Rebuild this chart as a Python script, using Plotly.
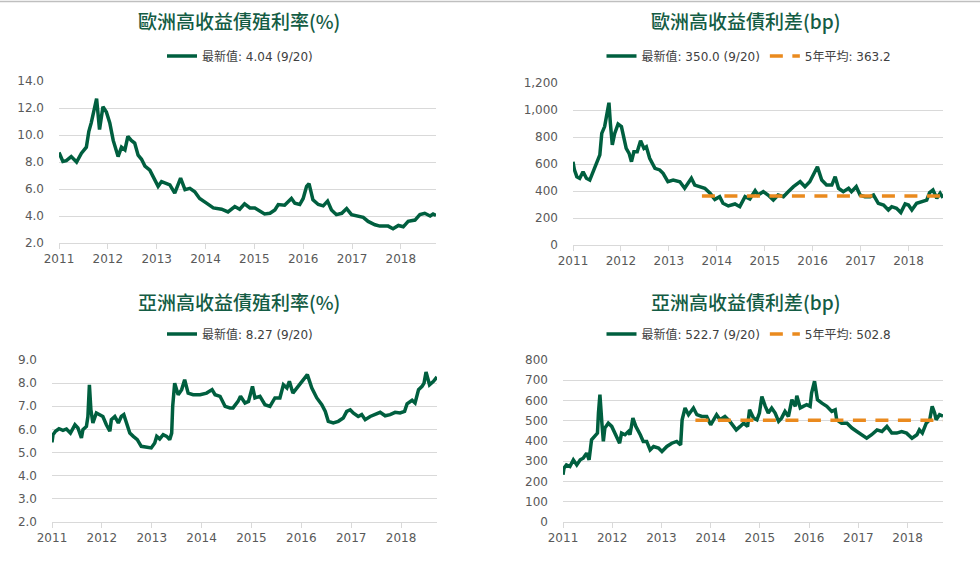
import plotly.graph_objects as go

# ---------------- data ----------------
year_ticks = [2011, 2012, 2013, 2014, 2015, 2016, 2017, 2018]
year_labels = [str(y) for y in year_ticks]

eu_yield_t = [2011.00, 2011.08, 2011.15, 2011.25, 2011.36, 2011.46, 2011.56, 2011.61, 2011.66, 2011.73,
              2011.77, 2011.83, 2011.90, 2011.97, 2012.04, 2012.11, 2012.21, 2012.28, 2012.35, 2012.41,
              2012.48, 2012.55, 2012.62, 2012.69, 2012.76, 2012.86, 2012.96, 2013.03, 2013.10, 2013.20,
              2013.27, 2013.37, 2013.44, 2013.49, 2013.58, 2013.68, 2013.78, 2013.88, 2014.02, 2014.16,
              2014.33, 2014.46, 2014.60, 2014.70, 2014.80, 2014.91, 2015.01, 2015.11, 2015.21, 2015.32,
              2015.42, 2015.49, 2015.62, 2015.76, 2015.83, 2015.93, 2016.00, 2016.07, 2016.12, 2016.20,
              2016.31, 2016.41, 2016.50, 2016.58, 2016.68, 2016.79, 2016.89, 2016.99, 2017.13, 2017.23,
              2017.33, 2017.47, 2017.57, 2017.74, 2017.84, 2017.95, 2018.05, 2018.15, 2018.29, 2018.39,
              2018.49, 2018.60, 2018.66, 2018.72]
eu_yield_v = [8.7, 8.04, 8.1, 8.4, 8.0, 8.65, 9.1, 10.25, 10.9, 11.9,
              12.7, 10.4, 12.1, 11.7, 10.9, 9.6, 8.4, 9.1, 8.9, 9.9,
              9.6, 9.4, 8.5, 8.2, 7.7, 7.4, 6.7, 6.2, 6.55, 6.4,
              6.3, 5.7, 6.3, 6.8, 5.95, 6.05, 5.8, 5.3, 4.95, 4.6,
              4.5, 4.3, 4.7, 4.5, 4.9, 4.6, 4.6, 4.35, 4.15, 4.2,
              4.45, 4.85, 4.8, 5.3, 4.95, 4.85, 5.3, 6.2, 6.4, 5.2,
              4.85, 4.75, 5.1, 4.45, 4.1, 4.2, 4.55, 4.1, 4.0, 3.9,
              3.6, 3.35, 3.25, 3.25, 3.05, 3.3, 3.2, 3.6, 3.7, 4.1,
              4.2, 4.0, 4.15, 4.04]

eu_spread_t = [2011.00, 2011.03, 2011.08, 2011.14, 2011.21, 2011.28, 2011.35, 2011.42, 2011.49, 2011.56,
               2011.60, 2011.66, 2011.71, 2011.75, 2011.78, 2011.82, 2011.87, 2011.94, 2012.01, 2012.07,
               2012.11, 2012.17, 2012.22, 2012.27, 2012.34, 2012.41, 2012.48, 2012.53, 2012.60, 2012.71,
               2012.81, 2012.88, 2012.98, 2013.09, 2013.23, 2013.33, 2013.40, 2013.47, 2013.54, 2013.65,
               2013.75, 2013.86, 2013.96, 2014.06, 2014.13, 2014.24, 2014.38, 2014.48, 2014.59, 2014.69,
               2014.80, 2014.86, 2014.97, 2015.07, 2015.18, 2015.28, 2015.39, 2015.49, 2015.60, 2015.74,
               2015.84, 2015.94, 2016.05, 2016.10, 2016.19, 2016.29, 2016.40, 2016.47, 2016.54, 2016.64,
               2016.75, 2016.81, 2016.91, 2016.99, 2017.09, 2017.20, 2017.27, 2017.37, 2017.48, 2017.58,
               2017.65, 2017.75, 2017.84, 2017.93, 2018.00, 2018.07, 2018.17, 2018.28, 2018.38, 2018.44,
               2018.51, 2018.59, 2018.66, 2018.72]
eu_spread_v = [617, 556, 506, 494, 543, 494, 481, 543, 593, 667,
               827, 877, 975, 1054, 901, 741, 827, 896, 877, 778,
               716, 679, 617, 691, 691, 773, 716, 728, 642, 568,
               556, 531, 469, 481, 469, 420, 457, 494, 444, 432,
               420, 383, 338, 358, 309, 289, 304, 284, 358, 341,
               402, 370, 395, 370, 333, 370, 358, 395, 432, 469,
               432, 469, 556, 580, 481, 444, 444, 506, 420, 395,
               420, 395, 432, 370, 358, 358, 370, 309, 296, 259,
               284, 272, 240, 304, 296, 259, 309, 321, 333, 388,
               407, 346, 383, 350]
eu_avg_t = [2013.69, 2018.72]
eu_avg_v = [363.2, 363.2]

as_yield_t = [2011.00, 2011.02, 2011.07, 2011.14, 2011.22, 2011.29, 2011.37, 2011.46, 2011.52, 2011.59,
              2011.62, 2011.69, 2011.72, 2011.75, 2011.78, 2011.82, 2011.89, 2011.96, 2012.02, 2012.09,
              2012.16, 2012.19, 2012.26, 2012.33, 2012.39, 2012.44, 2012.49, 2012.56, 2012.63, 2012.71,
              2012.79, 2012.89, 2012.99, 2013.06, 2013.10, 2013.16, 2013.23, 2013.30, 2013.36, 2013.40,
              2013.42, 2013.46, 2013.53, 2013.60, 2013.66, 2013.73, 2013.83, 2013.97, 2014.10, 2014.21,
              2014.27, 2014.37, 2014.47, 2014.57, 2014.63, 2014.73, 2014.78, 2014.87, 2014.94, 2015.02,
              2015.07, 2015.17, 2015.27, 2015.37, 2015.47, 2015.57, 2015.64, 2015.71, 2015.76, 2015.83,
              2015.91, 2015.97, 2016.04, 2016.12, 2016.21, 2016.31, 2016.41, 2016.48, 2016.54, 2016.64,
              2016.74, 2016.84, 2016.91, 2016.98, 2017.04, 2017.14, 2017.21, 2017.28, 2017.38, 2017.48,
              2017.58, 2017.68, 2017.78, 2017.88, 2017.98, 2018.07, 2018.12, 2018.22, 2018.28, 2018.35,
              2018.42, 2018.46, 2018.50, 2018.57, 2018.65, 2018.72]
as_yield_v = [5.44, 5.77, 5.92, 6.03, 5.96, 6.02, 5.84, 6.2, 6.06, 5.63,
              5.99, 6.13, 6.56, 7.93, 6.85, 6.28, 6.71, 6.64, 6.56, 6.2,
              5.92, 6.42, 6.56, 6.28, 6.56, 6.64, 6.28, 5.84, 5.7, 5.56,
              5.27, 5.22, 5.2, 5.41, 5.7, 5.59, 5.77, 5.7, 5.56, 5.84,
              7.0, 8.0, 7.5, 7.72, 8.15, 7.57, 7.5, 7.5, 7.57, 7.72,
              7.5, 7.43, 7.0, 6.93, 6.93, 7.21, 7.43, 7.14, 7.21, 7.86,
              7.36, 7.43, 7.07, 7.0, 7.36, 7.36, 7.93, 7.79, 8.08, 7.57,
              7.79, 7.93, 8.15, 8.37, 7.79, 7.36, 7.07, 6.78, 6.35, 6.28,
              6.35, 6.49, 6.78, 6.85, 6.71, 6.56, 6.64, 6.42, 6.56, 6.64,
              6.74, 6.59, 6.64, 6.74, 6.71, 6.78, 7.11, 7.26, 7.14, 7.72,
              7.86, 8.0, 8.48, 7.93, 8.08, 8.27]

as_spread_t = [2011.00, 2011.02, 2011.07, 2011.14, 2011.21, 2011.28, 2011.35, 2011.41, 2011.48, 2011.53,
               2011.58, 2011.65, 2011.70, 2011.72, 2011.75, 2011.79, 2011.82, 2011.85, 2011.92, 2011.99,
               2012.06, 2012.15, 2012.19, 2012.26, 2012.33, 2012.36, 2012.42, 2012.48, 2012.57, 2012.63,
               2012.70, 2012.77, 2012.84, 2012.94, 2013.01, 2013.11, 2013.21, 2013.31, 2013.39, 2013.42,
               2013.48, 2013.55, 2013.65, 2013.72, 2013.82, 2013.92, 2014.00, 2014.12, 2014.19, 2014.29,
               2014.39, 2014.52, 2014.60, 2014.67, 2014.75, 2014.79, 2014.87, 2014.94, 2014.99, 2015.04,
               2015.11, 2015.17, 2015.24, 2015.31, 2015.38, 2015.44, 2015.51, 2015.58, 2015.65, 2015.72,
               2015.75, 2015.82, 2015.88, 2015.95, 2016.02, 2016.05, 2016.11, 2016.17, 2016.26, 2016.36,
               2016.46, 2016.53, 2016.56, 2016.66, 2016.77, 2016.87, 2016.97, 2017.07, 2017.17, 2017.27,
               2017.38, 2017.48, 2017.58, 2017.68, 2017.78, 2017.88, 2017.98, 2018.09, 2018.19, 2018.24,
               2018.30, 2018.38, 2018.45, 2018.50, 2018.55, 2018.58, 2018.65, 2018.72]
as_spread_v = [233, 266, 282, 274, 307, 282, 307, 315, 340, 307,
               406, 422, 439, 538, 629, 488, 398, 464, 488, 472,
               439, 389, 439, 431, 447, 431, 513, 472, 431, 398,
               398, 356, 373, 365, 348, 373, 389, 398, 381, 505,
               563, 530, 563, 530, 521, 521, 480, 530, 505, 521,
               497, 455, 472, 488, 472, 554, 513, 505, 538, 620,
               571, 538, 563, 538, 497, 513, 546, 521, 604, 571,
               624, 563, 571, 579, 571, 637, 695, 604, 587, 571,
               546, 554, 505, 488, 488, 464, 447, 431, 414, 431,
               455, 447, 472, 439, 439, 447, 439, 414, 431, 455,
               439, 488, 505, 571, 538, 505, 530, 522.7]
as_avg_t = [2013.69, 2018.72]
as_avg_v = [502.8, 502.8]

titles = ["歐洲高收益債殖利率(%)", "歐洲高收益債利差(bp)", "亞洲高收益債殖利率(%)", "亞洲高收益債利差(bp)"]
latest_names = ["最新值: 4.04 (9/20)", "最新值: 350.0 (9/20)", "最新值: 8.27 (9/20)", "最新值: 522.7 (9/20)"]
avg_names = ["5年平均: 363.2", "5年平均: 502.8"]

# ---------------- style ----------------
W, H = 980, 573
GREEN = "#005f3f"
ORANGE = "#ea8a1e"
TITLE_C = "#145c44"
GRID = "#d9d9d9"
TICK_C = "#595959"
FONT = "DejaVu Sans, Noto Sans CJK TC, sans-serif"
CJK = "Noto Sans CJK TC, sans-serif"

def px_x(p):
    return p / W

def px_y(p):
    return 1 - p / H

# plot boxes in pixels: (left, right, top, bottom)
boxes = [(59, 436, 81, 243), (573, 943, 83, 245), (52, 437, 360, 522), (563, 943, 360, 522)]
title_pos = [(239, 21), (745, 21), (239, 301), (745, 301)]
legend_pos = [(240, 56), (749, 56), (240, 334), (749, 334)]
yranges = [[2, 14], [0, 1200], [2, 9], [0, 800]]
ydticks = [2, 200, 1, 100]
yformats = [".1f", ",", ".1f", ",d"]

fig = go.Figure()

series = [(eu_yield_t, eu_yield_v), (eu_spread_t, eu_spread_v), (as_yield_t, as_yield_v), (as_spread_t, as_spread_v)]
avgs = {1: (eu_avg_t, eu_avg_v, avg_names[0]), 3: (as_avg_t, as_avg_v, avg_names[1])}

for i, (tx, tv) in enumerate(series):
    k = i + 1
    xa = "x" if k == 1 else f"x{k}"
    ya = "y" if k == 1 else f"y{k}"
    lg = "legend" if k == 1 else f"legend{k}"
    fig.add_trace(go.Scatter(x=tx, y=tv, mode="lines", name=latest_names[i], showlegend=True,
                             line=dict(color=GREEN, width=3.5), xaxis=xa, yaxis=ya, legend=lg))
    if i in avgs:
        at, av, an = avgs[i]
        fig.add_trace(go.Scatter(x=at, y=av, mode="lines", name=an, showlegend=True,
                                 line=dict(color=ORANGE, width=3.5, dash="13px,9.5px"),
                                 xaxis=xa, yaxis=ya, legend=lg))

layout = dict(width=W, height=H, margin=dict(l=0, r=0, t=0, b=0, autoexpand=False),
              showlegend=True, hovermode=False,
              paper_bgcolor="white", plot_bgcolor="white", font=dict(family=FONT, color=TICK_C, size=11))

for i, (l, r, t, b) in enumerate(boxes):
    k = i + 1
    xk = "xaxis" if k == 1 else f"xaxis{k}"
    yk = "yaxis" if k == 1 else f"yaxis{k}"
    layout[xk] = dict(domain=[px_x(l), px_x(r)], range=[2011, 2018.72], tickvals=year_ticks,
                      ticktext=year_labels, showgrid=False, showline=True, linecolor=GRID, linewidth=1,
                      ticks="outside", ticklen=5, tickcolor=GRID, zeroline=False, automargin=False,
                      anchor="y" if k == 1 else f"y{k}",
                      tickfont=dict(family=FONT, size=12, color=TICK_C))
    layout[yk] = dict(domain=[px_y(b), px_y(t)], range=yranges[i], dtick=ydticks[i],
                      tickformat=yformats[i], showgrid=True, gridcolor=GRID, gridwidth=1,
                      zeroline=False, showline=False, ticks="", ticklabelstandoff=14, automargin=False,
                      anchor="x" if k == 1 else f"x{k}",
                      tickfont=dict(family=FONT, size=12, color=TICK_C))
    lk = "legend" if k == 1 else f"legend{k}"
    lx, ly = legend_pos[i]
    layout[lk] = dict(orientation="h", x=px_x(lx), y=px_y(ly), xanchor="center", yanchor="middle",
                      bgcolor="rgba(0,0,0,0)", font=dict(family=FONT, size=12, color="#404040"),
                      itemwidth=30, tracegroupgap=0, visible=True)

annotations = []
for i, (cx, cy) in enumerate(title_pos):
    annotations.append(dict(text=titles[i], x=px_x(cx), y=px_y(cy), xref="paper", yref="paper",
                            xanchor="center", yanchor="middle", showarrow=False,
                            font=dict(family=CJK, size=19, color=TITLE_C, weight=500)))
layout["annotations"] = annotations
layout["shapes"] = [dict(type="line", xref="paper", yref="paper", x0=0, x1=1, y0=px_y(1.5), y1=px_y(1.5),
                         line=dict(color="#bfbfbf", width=1.5))]

fig.update_layout(**layout)
fig.write_html("out.html", config={"displayModeBar": False, "staticPlot": True},
               post_script="document.body.style.margin='0';")
